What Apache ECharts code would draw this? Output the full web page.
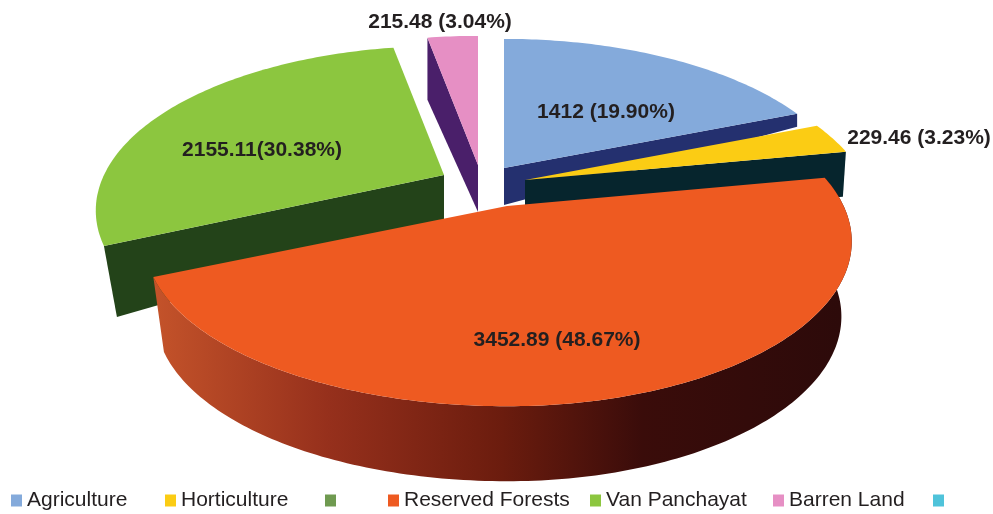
<!DOCTYPE html>
<html><head><meta charset="utf-8">
<style>html,body{margin:0;padding:0;background:#fff}#c{width:993px;height:514px}</style>
<script src="https://cdn.jsdelivr.net/npm/echarts@6/dist/echarts.min.js"></script>
</head><body><div id="c"></div>
<script>
// ---- data ----
const categories = ['Agriculture', 'Horticulture', '\u00a0', 'Reserved Forests', 'Van Panchayat', 'Barren Land', '\u00a0\u00a0'];
const values = [1412, 229.46, 0, 3452.89, 2155.11, 215.48, 0];
const labels = ['1412 (19.90%)', '229.46 (3.23%)', '', '3452.89 (48.67%)', '2155.11(30.38%)', '215.48 (3.04%)', ''];

// ---- style and layout ----
const topColors = ['#84aadb', '#fbcc14', '#6f9a50', '#ee5a21', '#8cc63f', '#e68fc4', '#4fc3da'];
const wallColors = ['#24306f', '#06252d', '#000', '#000', '#234319', '#4a1f6a', '#000'];
const apexes = [[504,168],[525,180],[507,206],[507,206],[444,175],[478,165],[507,206]];
// horizontal radius scale of each slice on its left and right side
const radiusScale = [[1,1.004],[1,1],[1,1],[1.04,0.99],[1,1],[1,1],[1,1]];
// radial side face: which edge of the slice, depth at apex, depth at rim, x shift at rim
const faces = [['end',37,13,0],['end',40,45,-3],null,null,['start',48,71,13],['start',47,62,0],null];
const labelPos = [[606,112],[919,138],null,[557,340],[262,150],[440,22],null];
const legendLeft = [11,165,325,388,590,773,933];
const drawOrder = [5,0,1,4,3,2,6];
const RX = 340, RY = 157, K = 0.216, WALL = 75, WALL_SHRINK = 0.97;
const FONT = '"Liberation Sans", Arial, sans-serif';

const total = values.reduce((a,b)=>a+b,0);
const starts = []; let acc = 0;
values.forEach(v => { starts.push(acc/total*Math.PI*2); acc += v; });

function project(i, theta, shrink, dy) {
  const u = Math.sin(theta), v = -Math.cos(theta), d = 1 - K*v, s = shrink || 1;
  const scale = radiusScale[i][u < 0 ? 0 : 1];
  return [apexes[i][0] + s*scale*RX*u/d, apexes[i][1] + RY*v/d + (dy||0)];
}
function rim(i, a, b, shrink, dy) {
  const pts = [], n = Math.max(2, Math.ceil(Math.abs(b-a)*60));
  for (let j=0;j<=n;j++) pts.push(project(i, a+(b-a)*j/n, shrink, dy));
  return pts;
}
function renderSlice(i) {
  return function () {
    const a = starts[i], b = a + values[i]/total*Math.PI*2, kids = [];
    if (values[i] <= 0) return {type:'group',children:[]};
    const apex = apexes[i];
    if (faces[i]) {
      const f = faces[i], p = project(i, f[0]==='start'?a:b);
      kids.push({type:'polygon',shape:{points:[apex,p,[p[0]+f[3],p[1]+f[2]],[apex[0],apex[1]+f[1]]]},style:{fill:wallColors[i]}});
    }
    if (!faces[i]) {
      const lo = rim(i,a,b,WALL_SHRINK,WALL), hi = rim(i,a,b).reverse();
      kids.push({type:'polygon',shape:{points:lo.concat(hi)},style:{
        fill:new echarts.graphic.LinearGradient(0,0,1,0,[
          {offset:0,color:'#c4532a'},{offset:.25,color:'#96301c'},{offset:.5,color:'#6b1c0e'},
          {offset:.7,color:'#3a0c0a'},{offset:1,color:'#2c0a0a'}])}});
    }
    kids.push({type:'polygon',shape:{points:[apex].concat(rim(i,a,b))},style:{fill:topColors[i]}});
    if (labelPos[i]) kids.push({type:'text',style:{text:labels[i],x:labelPos[i][0],y:labelPos[i][1],
      align:'center',verticalAlign:'middle',fill:'#231f20',font:'bold 21px '+FONT},z2:10});
    return {type:'group',children:kids};
  };
}
const series = drawOrder.map(i => ({
  type:'custom', name:categories[i], coordinateSystem:'none', silent:true,
  itemStyle:{color:topColors[i]}, data:[[values[i]]], renderItem:renderSlice(i), animation:false
}));
const legend = categories.map((name,i)=>({
  left:legendLeft[i], top:490, data:[{name, icon:'rect', itemStyle:{color:topColors[i]}}],
  selectedMode:false, itemWidth:11, itemHeight:12, padding:0,
  textStyle:{fontFamily:FONT, fontSize:21, color:'#231f20'}
}));
const chart = echarts.init(document.getElementById('c'),null,{renderer:'canvas'});
chart.setOption({animation:false, backgroundColor:'#fff', legend, series});
</script></body></html>
